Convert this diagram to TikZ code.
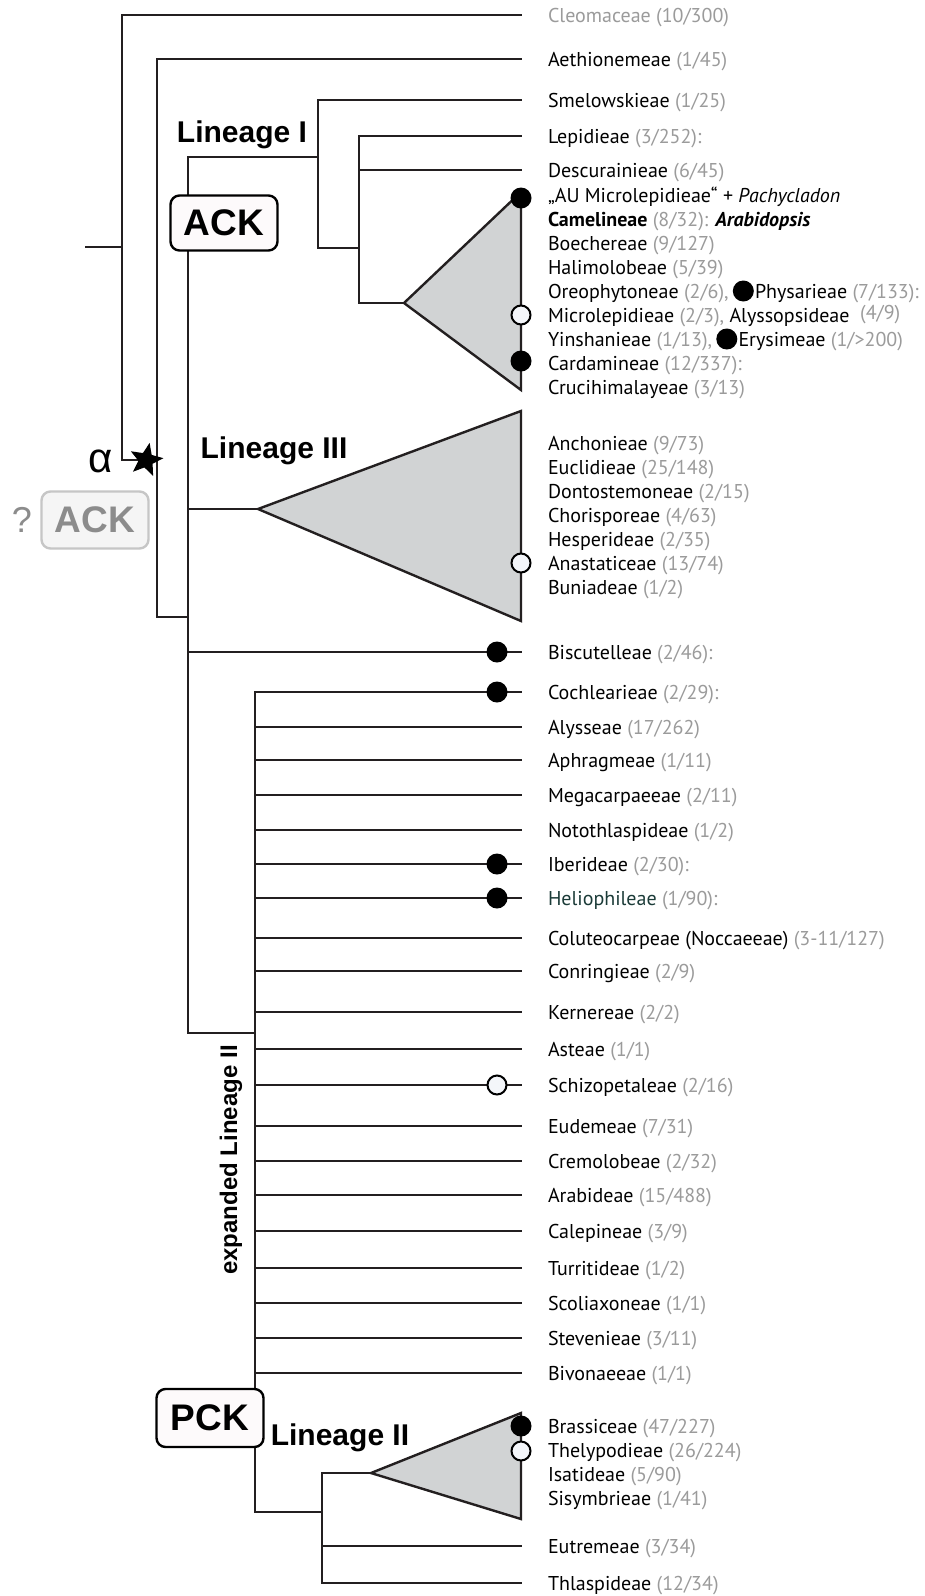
\documentclass[tikz,border=0pt]{standalone}
\usepackage{fontspec}
\setmainfont{PT Sans}
\newfontfamily\headfont{Liberation Sans}
\usetikzlibrary{positioning,shapes.geometric}

\definecolor{lineColor}{RGB}{35,31,32}
\definecolor{numColor}{RGB}{155,155,155}
\definecolor{cladeFill}{RGB}{209,211,212}
\definecolor{openFill}{RGB}{244,246,250}
\definecolor{boxFill}{RGB}{253,250,251}
\definecolor{ghostFill}{RGB}{245,245,245}
\definecolor{ghostLine}{RGB}{198,198,198}
\definecolor{ghostText}{RGB}{140,140,140}
\definecolor{helioColor}{RGB}{27,59,56}

\newcommand{\nr}[1]{\textcolor{numColor}{#1}}

\tikzset{
  branch/.style={draw=lineColor, line width=2.4pt, line cap=rect, line join=miter},
  clade/.style={draw=lineColor, fill=cladeFill, line width=2.4pt, line join=miter},
  lab/.style={anchor=west, inner sep=0pt, outer sep=0pt, text height=15.5pt, text depth=0.5pt, font=\fontsize{20}{24}\selectfont},
  fullDot/.style={circle, fill=black, inner sep=0pt, minimum size=21pt},
  openDot/.style={circle, draw=black, fill=openFill, line width=2pt, inner sep=0pt, minimum size=19pt},
  headLab/.style={font=\headfont\bfseries\fontsize{30}{30}\selectfont, inner sep=0pt},
  karyoBox/.style={rounded corners=9pt, draw=black, line width=2.4pt, fill=boxFill, minimum width=107pt, minimum height=55pt, inner sep=0pt, font=\headfont\bfseries\fontsize{37}{37}\selectfont}
}

\begin{document}
\begin{tikzpicture}[x=1pt,y=-1pt]
\path[use as bounding box, fill=white] (0,0) rectangle (925,1596);

% inner nodes of the tree
\coordinate (root) at (86,247);
\coordinate (rootNode) at (122,247);
\coordinate (alphaNode) at (122,460);
\coordinate (brassNode) at (157,460);
\coordinate (coreNode) at (157,617);
\coordinate (ackTop) at (188,157);
\coordinate (ackMid) at (188,617);
\coordinate (ackBot) at (188,1033);
\coordinate (linINode) at (318,157);
\coordinate (linIbNode) at (318,248);
\coordinate (linIcNode) at (359,248);
\coordinate (linIdNode) at (359,303);
\coordinate (linIApex) at (404,303);
\coordinate (linIIIApex) at (258,509);
\coordinate (expTop) at (255,692);
\coordinate (expJoin) at (255,1033);
\coordinate (expBot) at (255,1512);
\coordinate (linIINode) at (322,1512);
\coordinate (linIIbNode) at (322,1473);
\coordinate (linIIApex) at (371,1473);

% tips
\coordinate (tCleo) at (521,15);
\coordinate (tAeth) at (521,59);
\coordinate (tSmel) at (521,100);
\coordinate (tLepi) at (521,136);
\coordinate (tDesc) at (521,170);
\coordinate (linITop) at (521,192);
\coordinate (linIBot) at (521,390);
\coordinate (tAuMi) at (521,195);
\coordinate (tCame) at (521,219);
\coordinate (tBoec) at (521,243);
\coordinate (tHali) at (521,267);
\coordinate (tOreo) at (521,291);
\coordinate (tMicr) at (521,315);
\coordinate (tYins) at (521,339);
\coordinate (tCard) at (521,363);
\coordinate (tCruc) at (521,387);
\coordinate (linIIITop) at (521,411);
\coordinate (linIIIBot) at (521,621);
\coordinate (tAnch) at (521,443);
\coordinate (tEucl) at (521,467);
\coordinate (tDont) at (521,491);
\coordinate (tChor) at (521,515);
\coordinate (tHesp) at (521,539);
\coordinate (tAnas) at (521,563);
\coordinate (tBuni) at (521,587);
\coordinate (tBisc) at (521,652);
\coordinate (tCoch) at (521,692);
\coordinate (tAlys) at (521,727);
\coordinate (tAphr) at (521,760);
\coordinate (tMega) at (521,795);
\coordinate (tNoto) at (521,830);
\coordinate (tIber) at (521,864);
\coordinate (tHeli) at (521,898);
\coordinate (tColu) at (521,938);
\coordinate (tConr) at (521,971);
\coordinate (tKern) at (521,1012);
\coordinate (tAste) at (521,1049);
\coordinate (tSchi) at (521,1085);
\coordinate (tEude) at (521,1126);
\coordinate (tCrem) at (521,1161);
\coordinate (tArab) at (521,1195);
\coordinate (tCale) at (521,1231);
\coordinate (tTurr) at (521,1268);
\coordinate (tScol) at (521,1303);
\coordinate (tStev) at (521,1338);
\coordinate (tBivo) at (521,1373);
\coordinate (linIITop) at (521,1413);
\coordinate (linIIBot) at (521,1519);
\coordinate (tBras) at (521,1426);
\coordinate (tThel) at (521,1450);
\coordinate (tIsat) at (521,1474);
\coordinate (tSisy) at (521,1498);
\coordinate (tEutr) at (521,1546);
\coordinate (tThla) at (521,1583);

% branches
\draw[branch] (root) -- (rootNode);
\draw[branch] (tCleo) -| (alphaNode) -- (brassNode);
\draw[branch] (tAeth) -| (coreNode) -- (ackMid);
\draw[branch] (ackTop) -- (ackBot);
\draw[branch] (ackTop) -- (linINode);
\draw[branch] (tSmel) -| (linIbNode) -- (linIcNode);
\draw[branch] (tLepi) -| (linIdNode) -- (linIApex);
\draw[branch] (tDesc -| linIdNode) -- (tDesc);
\draw[branch] (linIIIApex -| ackTop) -- (linIIIApex);
\draw[branch] (tBisc -| ackTop) -- (tBisc);
\draw[branch] (ackBot) -- (expJoin);
\draw[branch] (tCoch) -| (expBot) -- (linIINode);
\draw[branch] (tAlys -| expTop) -- (tAlys);
\draw[branch] (tAphr -| expTop) -- (tAphr);
\draw[branch] (tMega -| expTop) -- (tMega);
\draw[branch] (tNoto -| expTop) -- (tNoto);
\draw[branch] (tIber -| expTop) -- (tIber);
\draw[branch] (tHeli -| expTop) -- (tHeli);
\draw[branch] (tColu -| expTop) -- (tColu);
\draw[branch] (tConr -| expTop) -- (tConr);
\draw[branch] (tKern -| expTop) -- (tKern);
\draw[branch] (tAste -| expTop) -- (tAste);
\draw[branch] (tSchi -| expTop) -- (tSchi);
\draw[branch] (tEude -| expTop) -- (tEude);
\draw[branch] (tCrem -| expTop) -- (tCrem);
\draw[branch] (tArab -| expTop) -- (tArab);
\draw[branch] (tCale -| expTop) -- (tCale);
\draw[branch] (tTurr -| expTop) -- (tTurr);
\draw[branch] (tScol -| expTop) -- (tScol);
\draw[branch] (tStev -| expTop) -- (tStev);
\draw[branch] (tBivo -| expTop) -- (tBivo);
\draw[branch] (tThla) -| (linIIbNode) -- (linIIApex);
\draw[branch] (tEutr -| linIINode) -- (tEutr);

% collapsed clades
\filldraw[clade] (linIApex) -- (linITop) -- (linIBot) -- cycle;
\filldraw[clade] (linIIIApex) -- (linIIITop) -- (linIIIBot) -- cycle;
\filldraw[clade] (linIIApex) -- (linIITop) -- (linIIBot) -- cycle;

% markers
\node[fullDot] (auMiDot) at ([yshift=-3pt]tAuMi) {};
\node[openDot] (micrDot) at (tMicr) {};
\node[fullDot] (cardDot) at ([yshift=2pt]tCard) {};
\node[openDot] (anasDot) at (tAnas) {};
\node[fullDot] (biscDot) at ([xshift=-24pt]tBisc) {};
\node[fullDot] (cochDot) at ([xshift=-24pt]tCoch) {};
\node[fullDot] (iberDot) at ([xshift=-24pt]tIber) {};
\node[fullDot] (heliDot) at ([xshift=-24pt]tHeli) {};
\node[openDot] (schiDot) at ([xshift=-24pt]tSchi) {};
\node[fullDot] (brasDot) at (tBras) {};
\node[openDot] (thelDot) at ([yshift=-1pt]tThel) {};
\node[star, star points=5, star point ratio=2.3, fill=black, inner sep=0pt, minimum size=35pt, rotate=-12] (alphaStar) at (146,460) {};

% boxes and clade names
\node[karyoBox] (ackBox) at (224,223) {ACK};
\node[karyoBox, draw=ghostLine, fill=ghostFill, text=ghostText, minimum height=57pt] (ghostBox) at (95,520) {ACK};
\node[font=\headfont\fontsize{36}{36}\selectfont, text=ghostText, inner sep=0pt] (ghostMark) at (22,520) {?};
\node[karyoBox, minimum height=58pt] (pckBox) at (210,1418) {PCK};
\node[font=\headfont\fontsize{42}{42}\selectfont, inner sep=0pt] (alphaLab) at (101,461) {α};
\node[headLab] (linILab) at (242,135) {Lineage I};
\node[headLab] (linIIILab) at (274,451) {Lineage III};
\node[headLab] (linIILab) at (340,1438) {Lineage II};
\node[headLab, font=\headfont\bfseries\fontsize{24}{24}\selectfont, rotate=90] (expLab) at (231,1160) {expanded Lineage II};

% tribe names
\node[lab, text=numColor, right=27pt of tCleo] (cleo) {Cleomaceae (10/300)};
\node[lab, right=27pt of tAeth] (aeth) {Aethionemeae \nr{(1/45)}};
\node[lab, right=27pt of tSmel] (smel) {Smelowskieae \nr{(1/25)}};
\node[lab, right=27pt of tLepi] (lepi) {Lepidieae \nr{(3/252):}};
\node[lab, right=27pt of tDesc] (desc) {Descurainieae \nr{(6/45)}};
\node[lab, right=27pt of tAuMi] (auMi) {„AU Microlepidieae“ + \textit{Pachycladon}};
\node[lab, right=27pt of tCame] (came) {\textbf{Camelineae} \nr{(8/32):} \textbf{\textit{Arabidopsis}}};
\node[lab, right=27pt of tBoec] (boec) {Boechereae \nr{(9/127)}};
\node[lab, right=27pt of tHali] (hali) {Halimolobeae \nr{(5/39)}};
\node[lab, right=27pt of tOreo] (oreo) {Oreophytoneae \nr{(2/6),}};
\node[fullDot, right=4pt of oreo] (physDot) {};
\node[lab, right=1pt of physDot] (phys) {Physarieae \nr{(7/133):}};
\node[lab, right=27pt of tMicr] (micr) {Microlepidieae \nr{(2/3),} Alyssopsideae \ \raisebox{3pt}{\nr{(4/9)}}};
\node[lab, right=27pt of tYins] (yins) {Yinshanieae \nr{(1/13),}};
\node[fullDot, right=4pt of yins] (erysDot) {};
\node[lab, right=1pt of erysDot] (erys) {Erysimeae \nr{(1/>200)}};
\node[lab, right=27pt of tCard] (card) {Cardamineae \nr{(12/337):}};
\node[lab, right=27pt of tCruc] (cruc) {Crucihimalayeae \nr{(3/13)}};
\node[lab, right=27pt of tAnch] (anch) {Anchonieae \nr{(9/73)}};
\node[lab, right=27pt of tEucl] (eucl) {Euclidieae \nr{(25/148)}};
\node[lab, right=27pt of tDont] (dont) {Dontostemoneae \nr{(2/15)}};
\node[lab, right=27pt of tChor] (chor) {Chorisporeae \nr{(4/63)}};
\node[lab, right=27pt of tHesp] (hesp) {Hesperideae \nr{(2/35)}};
\node[lab, right=27pt of tAnas] (anas) {Anastaticeae \nr{(13/74)}};
\node[lab, right=27pt of tBuni] (buni) {Buniadeae \nr{(1/2)}};
\node[lab, right=27pt of tBisc] (bisc) {Biscutelleae \nr{(2/46):}};
\node[lab, right=27pt of tCoch] (coch) {Cochlearieae \nr{(2/29):}};
\node[lab, right=27pt of tAlys] (alys) {Alysseae \nr{(17/262)}};
\node[lab, right=27pt of tAphr] (aphr) {Aphragmeae \nr{(1/11)}};
\node[lab, right=27pt of tMega] (mega) {Megacarpaeeae \nr{(2/11)}};
\node[lab, right=27pt of tNoto] (noto) {Notothlaspideae \nr{(1/2)}};
\node[lab, right=27pt of tIber] (iber) {Iberideae \nr{(2/30):}};
\node[lab, right=27pt of tHeli] (heli) {\textcolor{helioColor}{Heliophileae} \nr{(1/90):}};
\node[lab, right=27pt of tColu] (colu) {Coluteocarpeae (Noccaeeae) \nr{(3-11/127)}};
\node[lab, right=27pt of tConr] (conr) {Conringieae \nr{(2/9)}};
\node[lab, right=27pt of tKern] (kern) {Kernereae \nr{(2/2)}};
\node[lab, right=27pt of tAste] (aste) {Asteae \nr{(1/1)}};
\node[lab, right=27pt of tSchi] (schi) {Schizopetaleae \nr{(2/16)}};
\node[lab, right=27pt of tEude] (eude) {Eudemeae \nr{(7/31)}};
\node[lab, right=27pt of tCrem] (crem) {Cremolobeae \nr{(2/32)}};
\node[lab, right=27pt of tArab] (arab) {Arabideae \nr{(15/488)}};
\node[lab, right=27pt of tCale] (cale) {Calepineae \nr{(3/9)}};
\node[lab, right=27pt of tTurr] (turr) {Turritideae \nr{(1/2)}};
\node[lab, right=27pt of tScol] (scol) {Scoliaxoneae \nr{(1/1)}};
\node[lab, right=27pt of tStev] (stev) {Stevenieae \nr{(3/11)}};
\node[lab, right=27pt of tBivo] (bivo) {Bivonaeeae \nr{(1/1)}};
\node[lab, right=27pt of tBras] (bras) {Brassiceae \nr{(47/227)}};
\node[lab, right=27pt of tThel] (thel) {Thelypodieae \nr{(26/224)}};
\node[lab, right=27pt of tIsat] (isat) {Isatideae \nr{(5/90)}};
\node[lab, right=27pt of tSisy] (sisy) {Sisymbrieae \nr{(1/41)}};
\node[lab, right=27pt of tEutr] (eutr) {Eutremeae \nr{(3/34)}};
\node[lab, right=27pt of tThla] (thla) {Thlaspideae \nr{(12/34)}};
\end{tikzpicture}
\end{document}
